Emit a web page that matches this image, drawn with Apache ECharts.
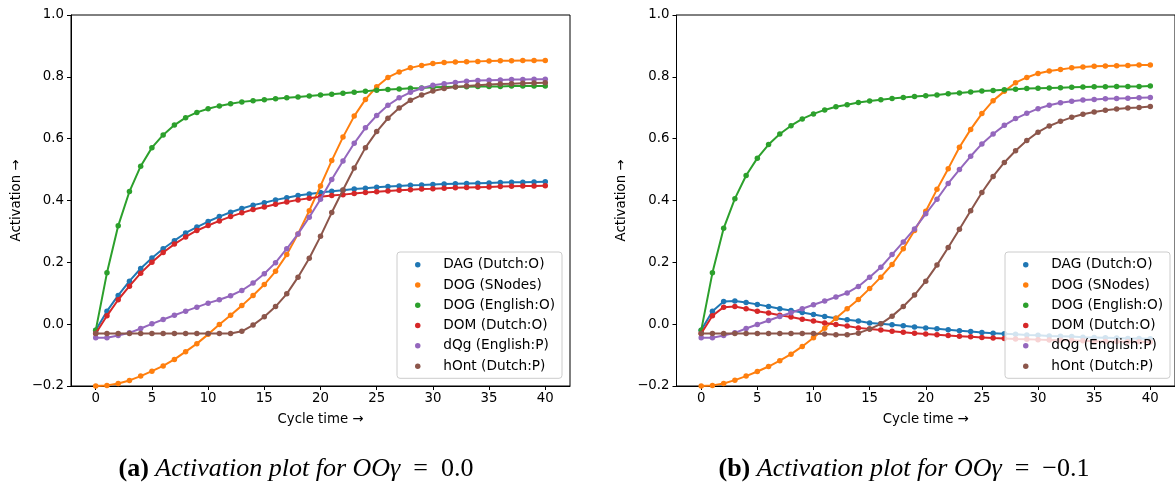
<!DOCTYPE html>
<html>
<head>
<meta charset="utf-8">
<script src="https://cdn.jsdelivr.net/npm/echarts@6/dist/echarts.min.js"></script>
<style>
html,body{margin:0;padding:0;background:#fff;}
#chart{width:1175px;height:483px;}
</style>
</head>
<body>
<div id="chart"></div>
<script>
// ---- data ----
const cycles = [0,1,2,3,4,5,6,7,8,9,10,11,12,13,14,15,16,17,18,19,20,21,22,23,24,25,26,27,28,29,30,31,32,33,34,35,36,37,38,39,40];
const seriesNames = ['DAG (Dutch:O)','DOG (SNodes)','DOG (English:O)','DOM (Dutch:O)','dQg (English:P)','hOnt (Dutch:P)'];
const xTicks = [0,5,10,15,20,25,30,35,40];
const yTicks = [-0.2,0.0,0.2,0.4,0.6,0.8,1.0];
const captions = [
  ['(a)','Activation plot for','OO\u03b3','\u2002=\u20020.0'],
  ['(b)','Activation plot for','OO\u03b3','\u2002=\u2002\u22120.1']
];

// plot (a): OOgamma = 0.0
const a_DAG = [-0.020,0.042,0.093,0.139,0.180,0.214,0.244,0.270,0.295,0.314,0.332,0.348,0.362,0.374,0.385,0.393,0.402,0.409,0.416,0.421,0.426,0.430,0.433,0.437,0.440,0.443,0.445,0.447,0.449,0.450,0.452,0.453,0.454,0.455,0.456,0.457,0.458,0.459,0.459,0.460,0.461];
const a_SNodes = [-0.200,-0.198,-0.192,-0.182,-0.168,-0.152,-0.135,-0.114,-0.089,-0.063,-0.033,-0.001,0.029,0.060,0.093,0.128,0.171,0.225,0.292,0.367,0.447,0.529,0.605,0.673,0.727,0.768,0.798,0.816,0.829,0.837,0.843,0.846,0.848,0.849,0.850,0.851,0.852,0.852,0.853,0.853,0.853];
const a_English = [-0.020,0.166,0.318,0.429,0.511,0.571,0.612,0.644,0.668,0.685,0.697,0.706,0.713,0.719,0.723,0.726,0.729,0.732,0.735,0.738,0.741,0.744,0.747,0.750,0.753,0.757,0.759,0.761,0.763,0.764,0.766,0.767,0.768,0.768,0.769,0.769,0.769,0.770,0.770,0.770,0.770];
const a_DOM = [-0.030,0.027,0.079,0.123,0.165,0.200,0.232,0.259,0.282,0.303,0.319,0.334,0.348,0.360,0.371,0.379,0.388,0.395,0.402,0.407,0.412,0.416,0.419,0.423,0.426,0.428,0.431,0.433,0.435,0.437,0.438,0.440,0.441,0.442,0.443,0.444,0.445,0.446,0.447,0.447,0.448];
const a_dQg = [-0.044,-0.044,-0.037,-0.028,-0.014,0.001,0.015,0.029,0.042,0.055,0.068,0.079,0.092,0.109,0.133,0.163,0.199,0.244,0.292,0.346,0.404,0.468,0.528,0.585,0.635,0.675,0.708,0.732,0.750,0.763,0.773,0.778,0.782,0.786,0.788,0.789,0.790,0.791,0.791,0.792,0.792];
const a_hOnt = [-0.030,-0.030,-0.030,-0.030,-0.030,-0.030,-0.030,-0.030,-0.030,-0.030,-0.030,-0.030,-0.030,-0.023,-0.003,0.024,0.057,0.098,0.152,0.213,0.284,0.361,0.434,0.505,0.571,0.623,0.666,0.699,0.724,0.741,0.754,0.762,0.767,0.770,0.773,0.775,0.777,0.778,0.779,0.780,0.781];

// plot (b): OOgamma = -0.1
const b_DAG = [-0.020,0.042,0.073,0.075,0.070,0.064,0.057,0.050,0.044,0.038,0.031,0.025,0.019,0.014,0.010,0.004,0.001,-0.002,-0.005,-0.009,-0.012,-0.015,-0.018,-0.021,-0.024,-0.027,-0.029,-0.031,-0.033,-0.035,-0.036,-0.038,-0.039,-0.040,-0.042,-0.043,-0.044,-0.045,-0.046,-0.046,-0.047];
const b_SNodes = [-0.200,-0.198,-0.192,-0.181,-0.168,-0.153,-0.137,-0.118,-0.097,-0.072,-0.044,-0.013,0.019,0.050,0.080,0.115,0.152,0.193,0.244,0.303,0.365,0.436,0.503,0.572,0.630,0.681,0.723,0.753,0.781,0.798,0.811,0.819,0.824,0.829,0.832,0.834,0.835,0.836,0.837,0.838,0.838];
const b_English = [-0.020,0.166,0.310,0.406,0.481,0.537,0.581,0.615,0.642,0.664,0.680,0.693,0.703,0.710,0.717,0.722,0.726,0.730,0.733,0.736,0.739,0.741,0.745,0.748,0.751,0.754,0.756,0.758,0.760,0.762,0.763,0.764,0.765,0.766,0.767,0.768,0.768,0.769,0.769,0.769,0.770];
const b_DOM = [-0.030,0.027,0.055,0.057,0.050,0.042,0.036,0.029,0.023,0.016,0.010,0.004,-0.001,-0.006,-0.012,-0.016,-0.019,-0.023,-0.026,-0.029,-0.032,-0.034,-0.037,-0.039,-0.041,-0.043,-0.045,-0.046,-0.048,-0.049,-0.050,-0.051,-0.052,-0.053,-0.054,-0.055,-0.056,-0.056,-0.057,-0.057,-0.058];
const b_dQg = [-0.044,-0.044,-0.037,-0.028,-0.014,-0.001,0.012,0.025,0.037,0.050,0.063,0.075,0.088,0.101,0.122,0.152,0.184,0.225,0.266,0.308,0.357,0.404,0.455,0.500,0.543,0.583,0.615,0.643,0.665,0.682,0.697,0.708,0.716,0.721,0.725,0.727,0.729,0.730,0.731,0.732,0.733];
const b_hOnt = [-0.030,-0.030,-0.030,-0.030,-0.030,-0.030,-0.030,-0.030,-0.030,-0.030,-0.030,-0.032,-0.034,-0.034,-0.029,-0.016,0.001,0.026,0.057,0.094,0.139,0.191,0.248,0.307,0.367,0.426,0.478,0.523,0.561,0.594,0.621,0.641,0.656,0.669,0.679,0.686,0.692,0.696,0.699,0.701,0.704];

const colors = ['#1f77b4','#ff7f0e','#2ca02c','#d62728','#9467bd','#8c564b'];
const plotA = [a_DAG,a_SNodes,a_English,a_DOM,a_dQg,a_hOnt];
const plotB = [b_DAG,b_SNodes,b_English,b_DOM,b_dQg,b_hOnt];

// ---- chart ----
const FONT = 'DejaVu Sans';
const SERIF = 'Liberation Serif';
const chart = echarts.init(document.getElementById('chart'), null, {renderer:'canvas'});

function fmtY(v){
  const s = Math.abs(v).toFixed(1);
  return (v < -1e-9 ? '\u2212' : '') + s;
}

function makeX(gi){
  return {
    type:'value', gridIndex:gi, min:-2.2, max:42.2,
    name:'Cycle time \u2192', nameLocation:'middle', nameGap:27,
    nameTextStyle:{fontFamily:FONT,fontSize:13.3,color:'#000'},
    axisLine:{show:true,onZero:false,lineStyle:{color:'#000',width:1}},
    axisTick:{show:true,length:4,inside:false,lineStyle:{color:'#000'},customValues:xTicks},
    axisLabel:{show:true,margin:6,fontFamily:FONT,fontSize:13.3,color:'#000',customValues:xTicks},
    splitLine:{show:false}
  };
}
function makeY(gi){
  return {
    type:'value', gridIndex:gi, min:-0.2, max:1.0, interval:0.2,
    name:'Activation \u2192', nameLocation:'middle', nameGap:48,
    nameTextStyle:{fontFamily:FONT,fontSize:13.3,color:'#000'},
    axisLine:{show:true,onZero:false,lineStyle:{color:'#000',width:1}},
    axisTick:{show:true,length:4,inside:false,lineStyle:{color:'#000'},customValues:yTicks},
    axisLabel:{show:true,margin:7,fontFamily:FONT,fontSize:13.3,color:'#000',formatter:fmtY,customValues:yTicks},
    splitLine:{show:false}
  };
}

const series = [];
[plotA, plotB].forEach((plot, gi) => {
  plot.forEach((arr, si) => {
    series.push({
      type:'line', name:seriesNames[si], xAxisIndex:gi, yAxisIndex:gi,
      data: cycles.map((c,i)=>[c, arr[i]]),
      symbol:'circle', symbolSize:5.5, showSymbol:true,
      lineStyle:{color:colors[si],width:2},
      itemStyle:{color:colors[si]},
      emphasis:{disabled:true},
      z:2+si
    });
  });
});

function makeLegend(left){
  return {
    left:left, top:252, orient:'vertical',
    data: seriesNames.map(n=>({name:n, icon:'circle'})),
    itemWidth:41, itemHeight:5.5, itemGap:6,
    padding:[5.5,7,5,18],
    backgroundColor:'rgba(255,255,255,0.8)',
    borderColor:'#cccccc', borderWidth:1, borderRadius:3,
    textStyle:{fontFamily:FONT,fontSize:13.7,color:'#000',lineHeight:14.3},
    selectedMode:false, z:10
  };
}

function makeCaption(cap, cx){
  const fs = 26;
  return {
    left:cx, top:449, textAlign:'center',
    text:'{b|'+cap[0]+'} {i|'+cap[1]+'} {m|'+cap[2]+'}{r|'+cap[3]+'}',
    textStyle:{
      fontFamily:SERIF, fontWeight:'normal', fontSize:fs, color:'#000', lineHeight:30,
      rich:{
        b:{fontFamily:SERIF,fontWeight:'bold',fontSize:fs,color:'#000',lineHeight:30},
        i:{fontFamily:SERIF,fontWeight:'normal',fontStyle:'italic',fontSize:fs,color:'#000',lineHeight:30},
        m:{fontFamily:SERIF,fontWeight:'normal',fontStyle:'italic',fontSize:fs,color:'#000',lineHeight:30},
        r:{fontFamily:SERIF,fontWeight:'normal',fontStyle:'normal',fontSize:fs,color:'#000',lineHeight:30}
      }
    }
  };
}

chart.setOption({
  animation:false,
  color:colors,
  title:[makeCaption(captions[0],291), makeCaption(captions[1],899)],
  grid:[
    {left:71, top:15, width:499, height:371, show:true, borderColor:'#000', borderWidth:1, containLabel:false},
    {left:676.5, top:15, width:499, height:371, show:true, borderColor:'#000', borderWidth:1, containLabel:false}
  ],
  xAxis:[makeX(0), makeX(1)],
  yAxis:[makeY(0), makeY(1)],
  legend:[makeLegend(397), makeLegend(1005)],
  series:series
});
</script>
</body>
</html>
